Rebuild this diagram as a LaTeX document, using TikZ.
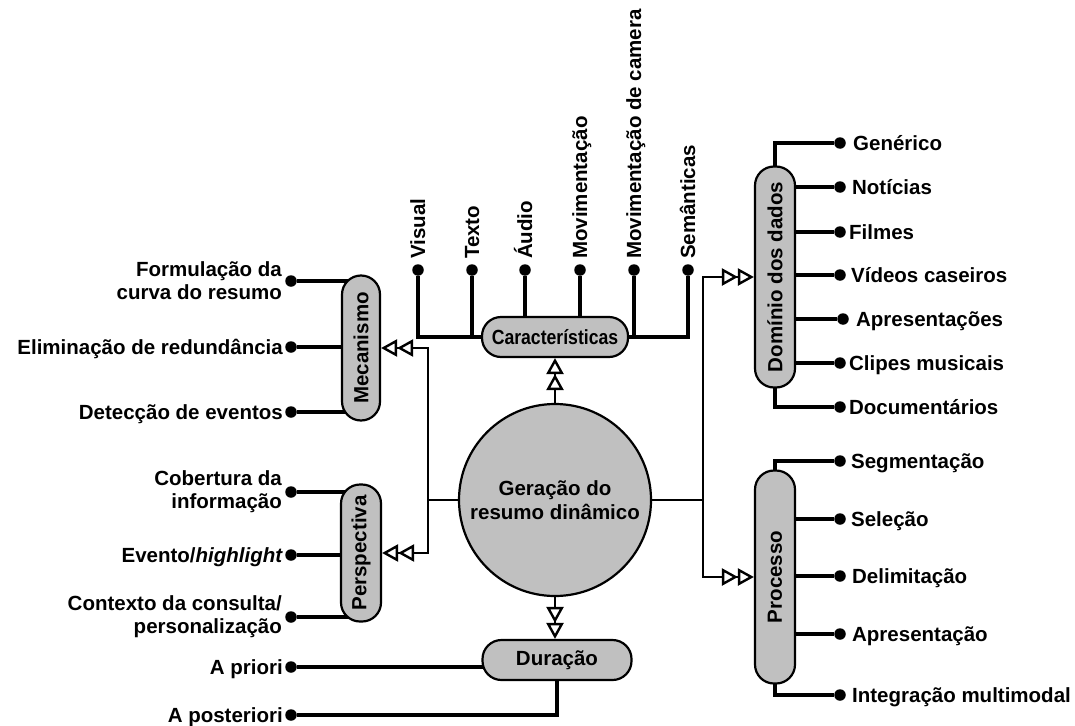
\documentclass[tikz,border=0pt]{standalone}
\usepackage{fontspec}
\setmainfont{Liberation Sans}
\usetikzlibrary{arrows.meta,calc}
\pgfdeclarelayer{bg}
\pgfsetlayers{bg,main}
\definecolor{pillgray}{HTML}{C0C0C0}
\tikzset{
  pill/.style={draw=black, line width=2.2pt, fill=pillgray, rounded corners=19pt, inner sep=0pt, font=\fontsize{20.5}{24}\selectfont\bfseries},
  leafdot/.style={circle, fill=black, inner sep=0pt, minimum size=11.5pt},
  leaf/.style={font=\fontsize{20.5}{23}\selectfont\bfseries, inner sep=0pt},
  leafline/.style={line width=3.1pt},
  conn/.style={line width=2.4pt},
  dbl/.style={conn, -{Triangle[length=16pt,width=17pt,fill=white] Triangle[length=16pt,width=17pt,fill=white]}},
}
\begin{document}
\begin{tikzpicture}[x=1pt,y=-1pt]
\useasboundingbox (0,0) rectangle (1075,725);

% central and group nodes
\node[circle, draw, line width=2.2pt, fill=pillgray, minimum size=192pt, inner sep=0pt, align=center, font=\fontsize{20.5}{24}\selectfont\bfseries] (circ) at (555,500) {Geração do\\resumo dinâmico};
\node[pill, minimum width=146pt, minimum height=40pt] (car) at (555,337) {\scalebox{0.86}[1]{Características}};
\node[pill, minimum width=38pt, minimum height=145pt] (mec) at (361,348) {\rotatebox{90}{Mecanismo}};
\node[pill, minimum width=40pt, minimum height=137pt] (per) at (361,553) {\rotatebox{90}{Perspectiva}};
\node[pill, minimum width=149pt, minimum height=40pt] (dur) at (557,660) {Duração};
\node[pill, minimum width=40pt, minimum height=221pt] (dom) at (775,277) {\rotatebox{90}{Domínio dos dados}};
\node[pill, minimum width=40pt, minimum height=213pt] (pro) at (775,577) {\rotatebox{90}{Processo}};

\coordinate (lj) at (428,500);
\coordinate (rj) at (703,500);

% top leaves (Características)
\node[leafdot] (vis) at (418,270) {};
\node[leafdot] (tex) at (472,270) {};
\node[leafdot] (aud) at (525,270) {};
\node[leafdot] (mov) at (580,270) {};
\node[leafdot] (cam) at (634,270) {};
\node[leafdot] (sem) at (688,270) {};
\node[leaf, rotate=90, anchor=base west] at ($(vis.north)+(7,-5)$) {Visual};
\node[leaf, rotate=90, anchor=base west] at ($(tex.north)+(7,-5)$) {Texto};
\node[leaf, rotate=90, anchor=base west] at ($(aud.north)+(7,-5)$) {Áudio};
\node[leaf, rotate=90, anchor=base west] at ($(mov.north)+(7,-5)$) {Movimentação};
\node[leaf, rotate=90, anchor=base west] at ($(cam.north)+(7,-5)$) {Movimentação de camera};
\node[leaf, rotate=90, anchor=base west] at ($(sem.north)+(7,-5)$) {Semânticas};

% Mecanismo leaves
\node[leafdot] (m1) at (291,281) {};
\node[leafdot] (m2) at (291,347) {};
\node[leafdot] (m3) at (291,412) {};
\node[leaf, anchor=east, align=right] at ($(m1.west)+(-3,0)$) {Formulação da\\curva do resumo};
\node[leaf, anchor=base east] at ($(m2.west)+(-2,7)$) {Eliminação de redundância};
\node[leaf, anchor=base east] at ($(m3.west)+(-2,7)$) {Detecção de eventos};

% Perspectiva leaves
\node[leafdot] (p1) at (291,492) {};
\node[leafdot] (p2) at (291,555) {};
\node[leafdot] (p3) at (291,617) {};
\node[leaf, anchor=east, align=right] at ($(p1.west)+(-3,0)$) {Cobertura da\\informação};
\node[leaf, anchor=base east] at ($(p2.west)+(-2,7)$) {Evento/\textit{highlight}};
\node[leaf, anchor=east, align=right] at ($(p3.west)+(-3,0)$) {Contexto da consulta/\\personalização};

% Duração leaves
\node[leafdot] (d1) at (291,667) {};
\node[leafdot] (d2) at (291,715) {};
\node[leaf, anchor=base east] at ($(d1.west)+(-2,7)$) {A priori};
\node[leaf, anchor=base east] at ($(d2.west)+(-2,7)$) {A posteriori};

% Domínio leaves
\node[leafdot] (r1) at (840,143) {};
\node[leafdot] (r2) at (840,187) {};
\node[leafdot] (r3) at (840,232) {};
\node[leafdot] (r4) at (840,275) {};
\node[leafdot] (r5) at (843,319) {};
\node[leafdot] (r6) at (840,363) {};
\node[leafdot] (r7) at (840,407) {};
\node[leaf, anchor=base west] at ($(r1.east)+(7,7)$) {Genérico};
\node[leaf, anchor=base west] at ($(r2.east)+(6,7)$) {Notícias};
\node[leaf, anchor=base west] at ($(r3.east)+(3,7)$) {Filmes};
\node[leaf, anchor=base west] at ($(r4.east)+(5,7)$) {Vídeos caseiros};
\node[leaf, anchor=base west] at ($(r5.east)+(7,7)$) {Apresentações};
\node[leaf, anchor=base west] at ($(r6.east)+(3,7)$) {Clipes musicais};
\node[leaf, anchor=base west] at ($(r7.east)+(3,7)$) {Documentários};

% Processo leaves
\node[leafdot] (q1) at (840,461) {};
\node[leafdot] (q2) at (840,519) {};
\node[leafdot] (q3) at (840,576) {};
\node[leafdot] (q4) at (840,634) {};
\node[leafdot] (q5) at (840,695) {};
\node[leaf, anchor=base west] at ($(q1.east)+(5,7)$) {Segmentação};
\node[leaf, anchor=base west] at ($(q2.east)+(5,7)$) {Seleção};
\node[leaf, anchor=base west] at ($(q3.east)+(6,7)$) {Delimitação};
\node[leaf, anchor=base west] at ($(q4.east)+(6,7)$) {Apresentação};
\node[leaf, anchor=base west] at ($(q5.east)+(6,7)$) {Integração multimodal};

\begin{pgfonlayer}{bg}
  \draw[leafline] (vis) |- (car.center);
  \draw[leafline] (tex) -- (tex |- car.center);
  \draw[leafline] (aud) -- (aud |- car.center);
  \draw[leafline] (mov) -- (mov |- car.center);
  \draw[leafline] (cam) -- (cam |- car.center);
  \draw[leafline] (sem) |- (car.center);
  \foreach \n in {m1,m2,m3} { \draw[leafline] (\n) -- (\n -| mec.center); }
  \foreach \n in {p1,p2,p3} { \draw[leafline] (\n) -- (\n -| per.center); }
  \draw[leafline] (d1) -- (d1 -| dur.center);
  \draw[leafline] (d2) -| (dur.center);
  \draw[leafline] (dom.center) |- (r1);
  \foreach \n in {r2,r3,r4,r5,r6} { \draw[leafline] (\n -| dom.center) -- (\n); }
  \draw[leafline] (dom.center) |- (r7);
  \draw[leafline] (pro.center) |- (q1);
  \foreach \n in {q2,q3,q4} { \draw[leafline] (\n -| pro.center) -- (\n); }
  \draw[leafline] (pro.center) |- (q5);
  \draw[conn] (circ.center) -- (lj);
  \draw[conn] (circ.center) -- (rj);
\end{pgfonlayer}

\draw[dbl] (lj) |- (mec.east);
\draw[dbl] (lj) |- (per.east);
\draw[dbl] (circ.north) -- (car.south);
\draw[dbl] (circ.south) -- (circ.south |- dur.north);
\draw[dbl] (rj) |- (dom.west);
\draw[dbl] (rj) |- (pro.west);
\end{tikzpicture}
\end{document}
